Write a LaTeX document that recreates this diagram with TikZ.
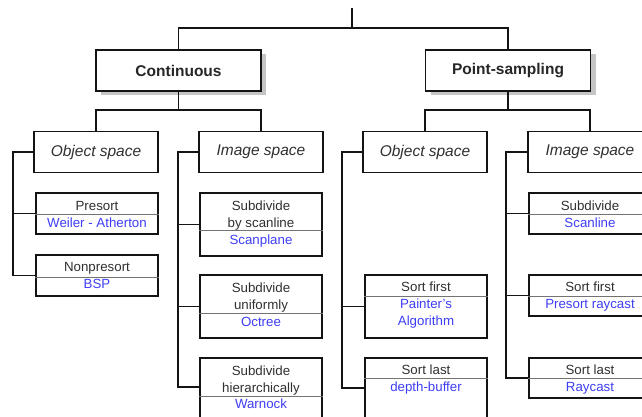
\documentclass[tikz,border=0pt]{standalone}
\usepackage{fontspec}
\setmainfont{Liberation Sans}
\usetikzlibrary{shadows}
\definecolor{txtblue}{RGB}{62,62,245}
\definecolor{txtgray}{RGB}{48,48,48}
\definecolor{linegray}{RGB}{20,20,20}
\begin{document}
\begin{tikzpicture}[x=1pt,y=-1pt,
  topbox/.style={draw=linegray, line width=1.9pt, fill=white, minimum width=165pt, minimum height=41pt, inner sep=0pt,
     font=\fontsize{15.5}{18}\selectfont\bfseries, text=black!85,
     drop shadow={shadow xshift=5pt, shadow yshift=-4pt, fill=black!45, opacity=0.5}},
  midbox/.style={draw=linegray, line width=1.9pt, fill=white, minimum width=124pt, minimum height=41pt, inner sep=0pt,
     font=\fontsize{15.5}{18}\selectfont\itshape, text=txtgray},
  leafbox/.style={draw=linegray, line width=1.6pt, minimum width=122pt, inner sep=0pt},
  divline/.style={draw=black!55, line width=0.9pt},
  ltxt/.style={inner sep=0pt, text height=9.5pt, text depth=0pt, font=\fontsize{13.3}{16}\selectfont, text=txtgray},
  btxt/.style={ltxt, text=txtblue},
  conn/.style={draw=linegray, line width=1.6pt}]
\clip (0,0) rectangle (642,416);
\fill[white] (0,0) rectangle (642,416);

% top level
\coordinate (root) at (352,8);
\coordinate (rootjoin) at (352,28);
\node[topbox] (cont) at (178.5,70.5) {Continuous};
\node[topbox] (pts) at (508,70.5) {Point-sampling};
\draw[conn] (root) -- (rootjoin);
\draw[conn] (cont.north) |- (rootjoin) -| (pts.north);

% second level
\node[midbox] (osA) at (96,152) {Object space};
\node[midbox] (isA) at (261,152) {Image space};
\node[midbox] (osB) at (425,152) {Object space};
\node[midbox] (isB) at (590,152) {Image space};
\coordinate (contjoin) at (178.5,110);
\coordinate (ptsjoin) at (508,110);
\draw[conn] (cont.south) -- (contjoin);
\draw[conn] (osA.north) |- (contjoin) -| (isA.north);
\draw[conn] (pts.south) -- (ptsjoin);
\draw[conn] (osB.north) |- (ptsjoin) -| (isB.north);

% column 1: continuous / object space
\node[leafbox, minimum height=41pt] (pre) at (97,213.5) {};
\draw[divline] (pre.west |- 0,214) -- (pre.east |- 0,214);
\node[ltxt] (preA) at (97,206) {Presort};
\node[btxt] (preB) at (97,223) {Weiler - Atherton};

\node[leafbox, minimum height=41pt] (npre) at (97,275.5) {};
\draw[divline] (npre.west |- 0,277) -- (npre.east |- 0,277);
\node[ltxt] (npreA) at (97,267) {Nonpresort};
\node[btxt] (npreB) at (97,284) {BSP};

\draw[conn] (osA.west) -| ([xshift=-22pt]npre.west) -- (npre.west);
\draw[conn] ([xshift=-22pt]pre.west) -- (pre.west);

% column 2: continuous / image space
\node[leafbox, minimum height=63pt] (subA) at (261,224.5) {};
\draw[divline] (subA.west |- 0,230) -- (subA.east |- 0,230);
\node[ltxt] (subAa) at (261,206) {Subdivide};
\node[ltxt] (subAb) at (261,223) {by scanline};
\node[btxt] (subAc) at (261,239.5) {Scanplane};

\node[leafbox, minimum height=63pt] (subB) at (261,306.5) {};
\draw[divline] (subB.west |- 0,313) -- (subB.east |- 0,313);
\node[ltxt] (subBa) at (261,288) {Subdivide};
\node[ltxt] (subBb) at (261,305) {uniformly};
\node[btxt] (subBc) at (261,322) {Octree};

\node[leafbox, minimum height=63pt] (subC) at (261,389.5) {};
\draw[divline] (subC.west |- 0,396) -- (subC.east |- 0,396);
\node[ltxt] (subCa) at (261,371) {Subdivide};
\node[ltxt] (subCb) at (261,387.5) {hierarchically};
\node[btxt] (subCc) at (261,404) {Warnock};

\coordinate (subCin) at ([yshift=2.5pt]subC.west);
\draw[conn] (isA.west) -| ([xshift=-21pt]subCin) -- (subCin);
\draw[conn] ([xshift=-21pt]subA.west) -- (subA.west);
\draw[conn] ([xshift=-21pt]subB.west) -- (subB.west);

% column 3: point-sampling / object space
\node[leafbox, minimum height=63pt] (sfA) at (426,306.5) {};
\draw[divline] (sfA.west |- 0,296) -- (sfA.east |- 0,296);
\node[ltxt] (sfAa) at (426,287) {Sort first};
\node[btxt] (sfAb) at (426,304) {Painter's};
\node[btxt] (sfAc) at (426,321) {Algorithm};

\node[leafbox, minimum height=63pt] (slA) at (426,389.5) {};
\draw[divline] (slA.west |- 0,378) -- (slA.east |- 0,378);
\node[ltxt] (slAa) at (426,370) {Sort last};
\node[btxt] (slAb) at (426,387) {depth-buffer};

\coordinate (slAin) at ([yshift=1.5pt]slA.west);
\draw[conn] (osB.west) -| ([xshift=-22pt]slAin) -- (slAin);
\draw[conn] ([xshift=-22pt]sfA.west) -- (sfA.west);

% column 4: point-sampling / image space
\node[leafbox, minimum height=41pt] (scan) at (590,213.5) {};
\draw[divline] (scan.west |- 0,214) -- (scan.east |- 0,214);
\node[ltxt] (scanA) at (590,206) {Subdivide};
\node[btxt] (scanB) at (590,222.5) {Scanline};

\node[leafbox, minimum height=41pt] (prc) at (590,295.5) {};
\draw[divline] (prc.west |- 0,296) -- (prc.east |- 0,296);
\node[ltxt] (prcA) at (590,287) {Sort first};
\node[btxt] (prcB) at (590,304) {Presort raycast};

\node[leafbox, minimum height=40pt] (rc) at (590,378) {};
\draw[divline] (rc.west |- 0,378) -- (rc.east |- 0,378);
\node[ltxt] (rcA) at (590,370) {Sort last};
\node[btxt] (rcB) at (590,387) {Raycast};

\draw[conn] (isB.west) -| ([xshift=-22pt]rc.west) -- (rc.west);
\draw[conn] ([xshift=-22pt]scan.west) -- (scan.west);
\draw[conn] ([xshift=-22pt]prc.west) -- (prc.west);
\end{tikzpicture}
\end{document}
